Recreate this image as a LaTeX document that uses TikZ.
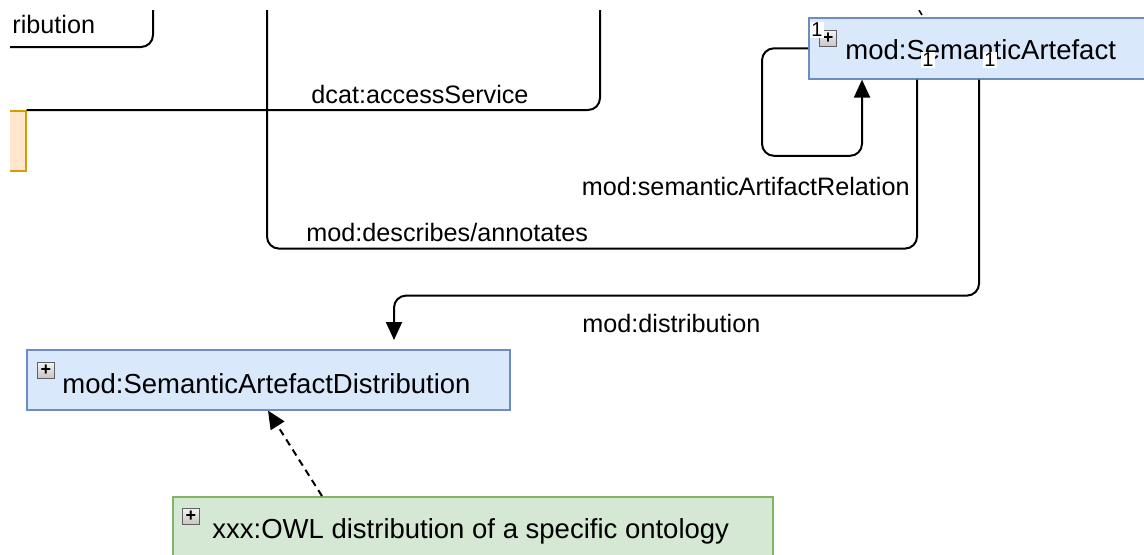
\documentclass[tikz,border=0pt]{standalone}
\usepackage{fontspec}
\setmainfont{Liberation Sans}
\usepackage{xcolor}
\usetikzlibrary{positioning}
\usetikzlibrary{arrows.meta}
\definecolor{semfill}{HTML}{DAE8FC}
\definecolor{semdraw}{HTML}{6C8EBF}
\definecolor{owlfill}{HTML}{D5E8D4}
\definecolor{owldraw}{HTML}{82B366}
\definecolor{srvfill}{HTML}{FFE6CC}
\definecolor{srvdraw}{HTML}{D79B00}
\tikzset{card/.style={fill=white, inner sep=0.6pt, font=\fontsize{10}{10}\selectfont}}

\begin{document}
\begin{tikzpicture}
[
x=0.5pt, y=-0.5pt,
semb/.style={rectangle, draw=semdraw, fill=semfill, line width=0.8pt, anchor=north west},
owlb/.style={rectangle, draw=owldraw, fill=owlfill, line width=0.8pt, anchor=north west},
srvb/.style={rectangle, draw=srvdraw, fill=srvfill, line width=0.8pt, anchor=north west},
btxt/.style={anchor=base west, inner sep=0, font=\fontsize{13.75}{16}\selectfont},
lbl/.style={inner sep=0, font=\fontsize{12.6}{15}\selectfont},
plus/.style={rectangle, draw=gray!75!black, top color=gray!8, bottom color=gray!45, inner sep=0,
  minimum width=8.5pt, minimum height=8pt, font=\fontsize{9}{9}\selectfont\bfseries},
edge/.style={draw=black, line width=1pt, rounded corners=6pt},
tip/.style={-{Triangle[length=9pt,width=8pt]}}
]
\useasboundingbox (0,0) rectangle (1144,554);
\clip (10,10) rectangle (1144,554);

% classes
\node[semb, minimum width=180pt, minimum height=30.5pt] (sa) at (808,17) {};
\node[semb, minimum width=241.5pt, minimum height=30pt] (dist) at (26,349) {};
\node[owlb, minimum width=300pt, minimum height=40pt] (owl) at (172,496) {};
\node[srvb, minimum width=62.5pt, minimum height=30pt] (srv) at (-100,110) {};

\node[btxt] (satxt) at (845,59) {mod:SemanticArtefact};
\node[btxt] (disttxt) at (62,393) {mod:SemanticArtefactDistribution};
\node[btxt] (owltxt) at (212,538) {xxx:OWL distribution of a specific ontology};

% loose ends outside the view
\coordinate (dl) at (0,47);
\coordinate (dt) at (153,0);
\coordinate (acct) at (600,0);
\coordinate (dest) at (267,0);
\coordinate (tk1) at (919,10);
\coordinate (tk2) at (922,15);

% connectors
\draw[edge] (dl) -| (dt);
\draw[edge] (srv.north east) -| (acct);
\draw[edge] ([xshift=54.5pt]sa.south west) -- ++(0,169) -| (dest);
\draw[edge, tip] (sa.west) -- ++(-46,0) -- ++(0,107.5) -| ([xshift=27pt]sa.south west);
\draw[edge, tip, shorten >=4.5pt] ([xshift=85.5pt]sa.south west) -- ++(0,216) -| ([xshift=184pt]dist.north west);
\draw[line width=1pt, dashed, dash pattern=on 3.5pt off 2.5pt, tip] ([xshift=75pt]owl.north west) -- ([xshift=121pt]dist.south west);
\draw[line width=0.8pt] (tk1) -- (tk2);

% labels
\node[lbl, anchor=base west] (ldist0) at (12,33) {ribution};
\node[lbl, anchor=base west] (lacc) at (311,103) {dcat:accessService};
\node[lbl, anchor=base east] (lrel) at (910,195) {mod:semanticArtifactRelation};
\node[lbl, anchor=base west] (ldes) at (306,241) {mod:describes/annotates};
\node[lbl, anchor=base west] (ldist) at (582,332) {mod:distribution};

% icons and cardinalities
\node[plus] (saicon) at (828,38) {+};
\node[plus] (disticon) at (46,370) {+};
\node[plus] (owlicon) at (191,516) {+};
\node[card] (c1) at (817,30) {1};
\node[card] (c2) at (928,60) {1};
\node[card] (c3) at (990,60) {1};
\end{tikzpicture}
\end{document}
